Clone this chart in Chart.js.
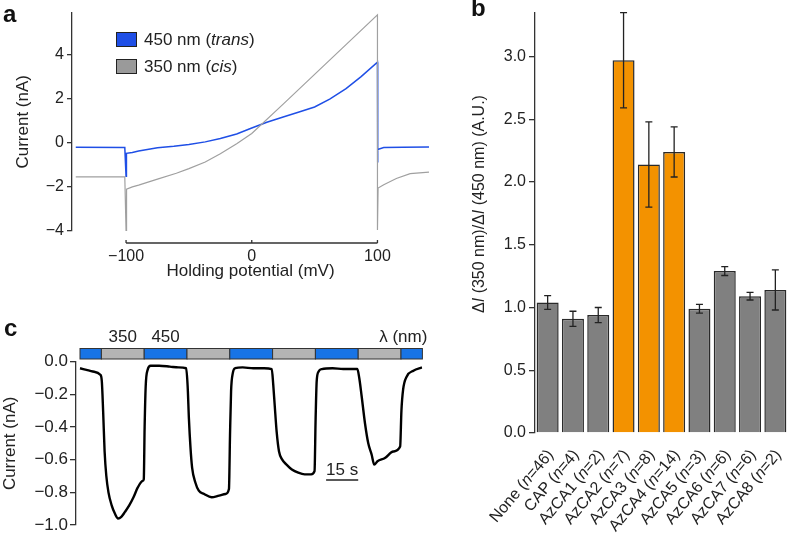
<!DOCTYPE html>
<html>
<head>
<meta charset="utf-8">
<script src="https://cdn.jsdelivr.net/npm/chart.js@4.4.0/dist/chart.umd.min.js"></script>
<style>
  body { margin: 0; background: #fff; width: 788px; height: 541px; position: relative; overflow: hidden; font-family: 'Liberation Sans', Arial, sans-serif; }
  canvas { position: absolute; }
  .tag { position: absolute; font-weight: bold; font-size: 24px; color: #111; line-height: 24px; }
</style>
</head>
<body>
<canvas id="ivChart" width="440" height="300" style="left:0;top:0"></canvas>
<canvas id="ratioChart" width="388" height="541" style="left:400px;top:0"></canvas>
<canvas id="traceChart" width="440" height="241" style="left:0;top:300px"></canvas>
<div class="tag" style="left:3px;top:2px">a</div>
<div class="tag" style="left:471px;top:-4px">b</div>
<div class="tag" style="left:4px;top:316px">c</div>
<script>
const FONT = "'Liberation Sans', Arial, Helvetica, sans-serif";
const INK = '#222';
const BLUE = '#1f4fe6';
const GREY = '#a0a0a0';

// panel a: I-V ramps (mV, nA)
const transV = [-140, -101, -100, -99.7, -95, -90, -75, -62, -50, -37, -25, -12, 0, 12, 25, 37, 50, 62, 75, 87, 100, 100, 100.4, 105, 120, 141];
const transI = [-0.2, -0.22, -1.52, -0.48, -0.44, -0.37, -0.23, -0.16, -0.08, 0.04, 0.19, 0.4, 0.67, 0.93, 1.17, 1.38, 1.62, 1.98, 2.45, 3.0, 3.65, -0.9, -0.3, -0.22, -0.2, -0.19];
const cisV = [-140, -120, -101, -100, -99.6, -95, -90, -75, -60, -50, -37, -25, -12, 0, 25, 50, 75, 100, 100, 100.5, 105, 115, 126, 141];
const cisI = [-1.55, -1.55, -1.55, -4, -2.1, -2.0, -1.92, -1.65, -1.38, -1.17, -0.87, -0.5, -0.05, 0.42, 1.75, 3.1, 4.45, 5.8, -3.95, -2.05, -1.9, -1.62, -1.4, -1.33];
const ivTicks = [-100, 0, 100];

// panel b: photoswitch ratio per compound
const groups = ['None', 'CAP', 'AzCA1', 'AzCA2', 'AzCA3', 'AzCA4', 'AzCA5', 'AzCA6', 'AzCA7', 'AzCA8'];
const nCells = [46, 4, 2, 7, 8, 14, 3, 6, 6, 2];
const ratioMean = [1.04, 0.91, 0.94, 2.97, 2.14, 2.24, 0.99, 1.29, 1.09, 1.14];
const ratioErr = [0.055, 0.06, 0.06, 0.38, 0.34, 0.2, 0.035, 0.035, 0.03, 0.16];
const activeGroups = ['AzCA2', 'AzCA3', 'AzCA4'];

// panel c: current trace (s, nA) and light protocol
const traceT = [0, 3, 6, 9.5, 10.2, 10.8, 11.5, 12.3, 13.3, 14.8, 16.3, 17.8, 19.3, 21, 23, 25, 27, 29.3, 29.8,
  30.2, 30.7, 31.6, 33, 37, 42, 46, 49.6, 50.3, 50.9, 51.6, 52.4, 53.9, 55.5, 58, 61.5, 65, 68, 69.6,
  70.1, 70.6, 71.4, 72.5, 76, 81, 86, 89.6, 90.3, 91, 91.9, 93, 94.5, 96.5, 99, 102, 105, 108, 109.6,
  110.1, 110.6, 111.5, 113, 118, 123, 129.6, 130.5, 131.6, 133.2, 134.7, 136.3, 137.5, 139, 142.5, 146.4, 149.6,
  150.2, 151, 152.7, 155.8, 159.8];
const traceI = [-0.04, -0.05, -0.06, -0.08, -0.12, -0.3, -0.55, -0.7, -0.8, -0.88, -0.93, -0.96, -0.95, -0.92, -0.88, -0.83, -0.77, -0.73, -0.72,
  -0.4, -0.15, -0.05, -0.025, -0.025, -0.03, -0.035, -0.04, -0.15, -0.35, -0.52, -0.65, -0.74, -0.79, -0.81, -0.83, -0.82, -0.81, -0.78,
  -0.45, -0.18, -0.07, -0.04, -0.035, -0.04, -0.04, -0.045, -0.14, -0.27, -0.43, -0.55, -0.6, -0.63, -0.66, -0.68, -0.69, -0.69, -0.67,
  -0.35, -0.12, -0.06, -0.045, -0.04, -0.045, -0.045, -0.1, -0.21, -0.38, -0.5, -0.57, -0.63, -0.61, -0.59, -0.55, -0.52,
  -0.3, -0.17, -0.09, -0.055, -0.035];
const stimEdges = [0, 10, 30, 50, 70, 90, 110, 130, 150, 160];
const stimNm = [450, 350, 450, 350, 450, 350, 450, 350, 450];
const scaleBarStart = 115, scaleBarLen = 15;

const minus = v => (v < 0 ? '\u2212' : '') + Math.abs(v);

function richWidth(ctx, parts, size) {
  let w = 0;
  parts.forEach(([t, it]) => { ctx.font = (it ? 'italic ' : '') + size + 'px ' + FONT; w += ctx.measureText(t).width; });
  return w;
}
function drawRich(ctx, parts, x, y, size, align) {
  const w = richWidth(ctx, parts, size);
  let cx = align === 'right' ? x - w : align === 'center' ? x - w / 2 : x;
  ctx.textAlign = 'left';
  ctx.textBaseline = 'middle';
  ctx.fillStyle = INK;
  parts.forEach(([t, it]) => {
    ctx.font = (it ? 'italic ' : '') + size + 'px ' + FONT;
    ctx.fillText(t, cx, y);
    cx += ctx.measureText(t).width;
  });
}

// ---------- panel a ----------
const ivLegend = {
  id: 'ivLegend',
  afterDraw(chart) {
    const ctx = chart.ctx;
    const items = [
      { color: BLUE, parts: [['450 nm (', false], ['trans', true], [')', false]], y: 32 },
      { color: '#9a9a9a', parts: [['350 nm (', false], ['cis', true], [')', false]], y: 59 }
    ];
    ctx.save();
    items.forEach(it => {
      ctx.fillStyle = it.color;
      ctx.fillRect(116, it.y, 21, 15);
      ctx.strokeStyle = INK;
      ctx.lineWidth = 1;
      ctx.strokeRect(116.5, it.y + 0.5, 20, 14);
      drawRich(ctx, it.parts, 144, it.y + 8, 17, 'left');
    });
    // range-frame x axis from -100 to 100
    const xs = chart.scales.x;
    const y0 = 243;
    ctx.strokeStyle = '#333';
    ctx.lineWidth = 1.3;
    ctx.beginPath();
    ctx.moveTo(xs.getPixelForValue(ivTicks[0]), y0);
    ctx.lineTo(xs.getPixelForValue(ivTicks[ivTicks.length - 1]), y0);
    ivTicks.forEach(v => {
      const px = xs.getPixelForValue(v);
      ctx.moveTo(px, y0);
      ctx.lineTo(px, y0 - 3);
    });
    ctx.stroke();
    ctx.restore();
  }
};

new Chart(document.getElementById('ivChart'), {
  type: 'scatter',
  data: {
    datasets: [
      { label: '350 nm (cis)', data: cisV.map((v, i) => ({ x: v, y: cisI[i] })), showLine: true, borderColor: GREY, borderWidth: 1.2, pointRadius: 0 },
      { label: '450 nm (trans)', data: transV.map((v, i) => ({ x: v, y: transI[i] })), showLine: true, borderColor: BLUE, borderWidth: 1.5, pointRadius: 0 }
    ]
  },
  options: {
    responsive: false,
    animation: false,
    layout: { padding: { left: 0, top: 12, right: 11, bottom: 0 } },
    plugins: { legend: { display: false }, tooltip: { enabled: false } },
    scales: {
      x: {
        type: 'linear', min: -143, max: 141,
        afterBuildTicks: s => { s.ticks = ivTicks.map(v => ({ value: v })); },
        afterFit: s => { s.height = 69; },
        border: { display: false },
        grid: { display: false, drawTicks: false },
        ticks: { padding: 16, color: INK, font: { family: FONT, size: 16 }, callback: v => minus(v) },
        title: { display: true, text: 'Holding potential (mV)', color: INK, font: { family: FONT, size: 17 }, padding: { top: 0, bottom: 18 } }
      },
      y: {
        min: -4, max: 5.9,
        afterFit: s => { s.width = 72; },
        border: { color: '#333', width: 1.3 },
        grid: { drawOnChartArea: false, tickLength: 5, color: '#333', lineWidth: 1.3 },
        ticks: { stepSize: 2, includeBounds: false, padding: 3, color: INK, font: { family: FONT, size: 16 }, callback: v => minus(v) },
        title: { display: true, text: 'Current (nA)', color: INK, font: { family: FONT, size: 17 }, padding: { top: 13, bottom: 0 } }
      }
    }
  },
  plugins: [ivLegend]
});

// ---------- panel b ----------
const ratioExtras = {
  id: 'ratioExtras',
  afterDatasetsDraw(chart) {
    const ctx = chart.ctx;
    const ys = chart.scales.y;
    const bars = chart.getDatasetMeta(0).data;
    ctx.save();
    ctx.strokeStyle = INK;
    ctx.lineWidth = 1.3;
    bars.forEach((bar, i) => {
      const top = ys.getPixelForValue(ratioMean[i] + ratioErr[i]);
      const bot = ys.getPixelForValue(ratioMean[i] - ratioErr[i]);
      ctx.beginPath();
      ctx.moveTo(bar.x, top); ctx.lineTo(bar.x, bot);
      ctx.moveTo(bar.x - 3.5, top); ctx.lineTo(bar.x + 3.5, top);
      ctx.moveTo(bar.x - 3.5, bot); ctx.lineTo(bar.x + 3.5, bot);
      ctx.stroke();
    });
    // rotated category labels with italic n
    bars.forEach((bar, i) => {
      ctx.save();
      ctx.translate(bar.x + 3, ys.bottom + 19);
      ctx.rotate(-50 * Math.PI / 180);
      drawRich(ctx, [[groups[i] + ' (', false], ['n', true], ['=' + nCells[i] + ')', false]], 0, 0, 16, 'right');
      ctx.restore();
    });
    // y title
    ctx.save();
    ctx.translate(80, 204);
    ctx.rotate(-Math.PI / 2);
    drawRich(ctx, [['\u0394', false], ['I', true], [' (350 nm)/\u0394', false], ['I', true], [' (450 nm) (A.U.)', false]], 0, 0, 16, 'center');
    ctx.restore();
    ctx.restore();
  }
};

new Chart(document.getElementById('ratioChart'), {
  type: 'bar',
  data: {
    labels: groups,
    datasets: [{
      data: ratioMean,
      backgroundColor: groups.map(g => activeGroups.includes(g) ? '#f39200' : '#808080'),
      borderColor: '#2a2a2a',
      borderWidth: 1.5,
      categoryPercentage: 1,
      barPercentage: 0.87
    }]
  },
  options: {
    responsive: false,
    animation: false,
    layout: { padding: { left: 0, top: 5, right: 0, bottom: 108 } },
    plugins: { legend: { display: false }, tooltip: { enabled: false } },
    scales: {
      x: { display: false },
      y: {
        min: 0, max: 3.35,
        afterFit: s => { s.width = 135; },
        border: { color: '#333', width: 1.3 },
        grid: { drawOnChartArea: false, tickLength: 6, color: '#333', lineWidth: 1.3 },
        ticks: { stepSize: 0.5, includeBounds: false, padding: 3, color: INK, font: { family: FONT, size: 16 }, callback: v => v.toFixed(1) }
      }
    }
  },
  plugins: [ratioExtras]
});

// ---------- panel c ----------
const traceExtras = {
  id: 'traceExtras',
  afterDraw(chart) {
    const ctx = chart.ctx;
    const xs = chart.scales.x;
    ctx.save();
    for (let i = 0; i < stimNm.length; i++) {
      const x0 = xs.getPixelForValue(stimEdges[i]);
      const x1 = xs.getPixelForValue(stimEdges[i + 1]);
      ctx.fillStyle = stimNm[i] === 450 ? '#1874e6' : '#b4b4b4';
      ctx.fillRect(x0, 48.5, x1 - x0, 10.5);
      ctx.strokeStyle = '#333';
      ctx.lineWidth = 1;
      ctx.strokeRect(x0, 48.5, x1 - x0, 10.5);
    }
    ctx.fillStyle = INK;
    ctx.font = '17px ' + FONT;
    ctx.textAlign = 'center';
    ctx.textBaseline = 'middle';
    ctx.fillText(String(stimNm[1]), (xs.getPixelForValue(stimEdges[1]) + xs.getPixelForValue(stimEdges[2])) / 2, 37);
    ctx.fillText(String(stimNm[2]), (xs.getPixelForValue(stimEdges[2]) + xs.getPixelForValue(stimEdges[3])) / 2, 37);
    ctx.textAlign = 'right';
    ctx.fillText('\u03bb (nm)', xs.getPixelForValue(stimEdges[stimEdges.length - 1]) + 5, 37);
    // 15 s scale bar
    const b0 = xs.getPixelForValue(scaleBarStart);
    const b1 = xs.getPixelForValue(scaleBarStart + scaleBarLen);
    ctx.strokeStyle = INK;
    ctx.lineWidth = 1.3;
    ctx.beginPath();
    ctx.moveTo(b0, 180); ctx.lineTo(b1, 180);
    ctx.stroke();
    ctx.textAlign = 'center';
    ctx.fillText(scaleBarLen + ' s', (b0 + b1) / 2, 170);
    ctx.restore();
  }
};

new Chart(document.getElementById('traceChart'), {
  type: 'scatter',
  data: {
    datasets: [{
      data: traceT.map((t, i) => ({ x: t, y: traceI[i] })),
      showLine: true, borderColor: '#000', borderWidth: 2.4, pointRadius: 0,
      cubicInterpolationMode: 'monotone'
    }]
  },
  options: {
    responsive: false,
    animation: false,
    layout: { padding: { left: 0, top: 61.7, right: 17.6, bottom: 16 } },
    plugins: { legend: { display: false }, tooltip: { enabled: false } },
    scales: {
      x: { type: 'linear', min: -1.87, max: 160, display: false },
      y: {
        min: -1.0, max: 0,
        afterFit: s => { s.width = 76; },
        border: { color: '#333', width: 1.3 },
        grid: { drawOnChartArea: false, tickLength: 6, color: '#333', lineWidth: 1.3 },
        ticks: { stepSize: 0.2, padding: 2, color: INK, font: { family: FONT, size: 17 }, callback: v => (v < 0 ? '\u2212' : '') + Math.abs(v).toFixed(1) },
        title: { display: true, text: 'Current (nA)', color: INK, font: { family: FONT, size: 17 }, padding: { top: 0, bottom: 0 } }
      }
    }
  },
  plugins: [traceExtras]
});
</script>
</body>
</html>
